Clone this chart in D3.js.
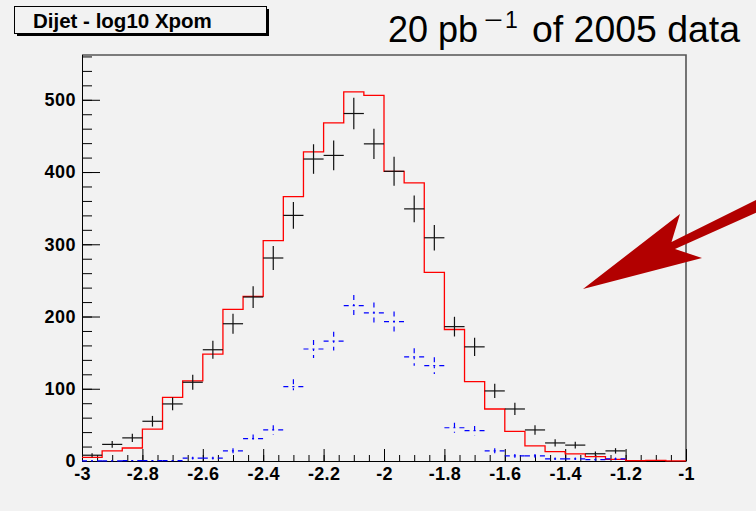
<!DOCTYPE html>
<html>
<head>
<meta charset="utf-8">
<script src="https://cdn.jsdelivr.net/npm/d3@7"></script>
<style>
  html, body { margin: 0; padding: 0; background: #f2f2f2; }
  svg { display: block; }
</style>
</head>
<body>
<svg id="chart" width="756" height="511"></svg>
<script>
// log10(xpom) histogram range and binning
const xMin = -3, xMax = -1;
const yMax = 562;

// Data counts per bin (30 bins from -3 to -1)
const dataCounts = [8, 23, 32, 55, 79, 109, 154, 190, 227, 281, 340, 418, 423, 481, 439,
                    401, 349, 309, 186, 158, 97, 72, 43, 25, 22, 10, 14, 0, 0, 0];
// Total Monte Carlo prediction (red outline)
const mcTotal = [5, 14, 18, 44, 88, 111, 148, 210, 228, 305, 366, 428, 468, 511, 506,
                 401, 385, 261, 182, 110, 72, 41, 21, 13, 10, 6, 2.3, 0.5, 0.8, 0.3];
// Monte Carlo component (blue dash-dot crosses)
const mcComponent = [0.3, 0.3, 0.5, 0.5, 0.5, 4, 4, 14, 31, 43, 103, 155, 166, 215, 205,
                     193, 144, 132, 46, 42, 14, 7, 7, 3, 3, 2, 3, 0, 0, 0];

const xTickValues = [-3, -2.8, -2.6, -2.4, -2.2, -2, -1.8, -1.6, -1.4, -1.2, -1];
const xTickLabels = ["-3", "-2.8", "-2.6", "-2.4", "-2.2", "-2", "-1.8", "-1.6", "-1.4", "-1.2", "-1"];
const yTickValues = [0, 100, 200, 300, 400, 500];
const yTickLabels = ["0", "100", "200", "300", "400", "500"];

const titleText = "Dijet - log10 Xpom";
const lumiMain = "20 pb";
const lumiSupSign = "\u2212";
const lumiSupExp = "1";
const lumiRest = "of 2005 data";

const svg = d3.select("#chart");
const W = 756, H = 511;
const frame = { left: 82, right: 686, top: 55, bottom: 461 };
const labelFont = "'Liberation Sans', Arial, Helvetica, sans-serif";

const x = d3.scaleLinear().domain([xMin, xMax]).range([frame.left, frame.right]);
const y = d3.scaleLinear().domain([0, yMax]).range([frame.bottom, frame.top]);

const nBins = dataCounts.length;
const bw = (xMax - xMin) / nBins;
const binLo = i => xMin + i * bw;
const binHi = i => xMin + (i + 1) * bw;
const binMid = i => xMin + (i + 0.5) * bw;

svg.append("rect").attr("width", W).attr("height", H).attr("fill", "#f2f2f2");

// Frame: top and right edges
svg.append("path")
  .attr("d", `M${frame.left},${frame.top}H${frame.right}V${frame.bottom}`)
  .attr("fill", "none").attr("stroke", "#555").attr("stroke-width", 1.6);

// X axis: minor ticks every 0.05, major every 0.2
const xMinorVals = d3.range(0, 41).map(k => xMin + k * 0.05);
svg.append("g")
  .attr("transform", `translate(0,${frame.bottom})`)
  .call(d3.axisBottom(x).tickValues(xMinorVals).tickSize(-6).tickSizeOuter(0).tickFormat(""))
  .call(g => g.select(".domain").remove());

const gx = svg.append("g")
  .attr("transform", `translate(0,${frame.bottom})`)
  .call(d3.axisBottom(x).tickValues(xTickValues).tickSize(-12).tickSizeOuter(0)
        .tickPadding(6).tickFormat((d, i) => xTickLabels[i]));
gx.selectAll("text")
  .attr("font-family", labelFont).attr("font-size", 18).attr("font-weight", "bold")
  .attr("letter-spacing", "0.3px").attr("fill", "#000");

// Y axis: minor ticks every 20, major every 100
const yMinorVals = d3.range(0, 29).map(k => k * 20);
svg.append("g")
  .attr("transform", `translate(${frame.left},0)`)
  .call(d3.axisLeft(y).tickValues(yMinorVals).tickSize(-10).tickSizeOuter(0).tickFormat(""))
  .call(g => g.select(".domain").remove());

const gy = svg.append("g")
  .attr("transform", `translate(${frame.left},0)`)
  .call(d3.axisLeft(y).tickValues(yTickValues).tickSize(-18).tickSizeOuter(0)
        .tickPadding(6).tickFormat((d, i) => yTickLabels[i]));
gy.select(".domain").attr("d", `M0.5,${frame.bottom}V${frame.top}`);
gy.selectAll("text")
  .attr("font-family", labelFont).attr("font-size", 18).attr("font-weight", "bold")
  .attr("letter-spacing", "0.5px").attr("fill", "#000");

// Red step outline of the total prediction
const stepPts = [];
mcTotal.forEach((v, i) => {
  stepPts.push([x(binLo(i)), y(v)]);
  stepPts.push([x(binHi(i)), y(v)]);
});
svg.append("path")
  .attr("d", d3.line()(stepPts))
  .attr("fill", "none").attr("stroke", "#ff0000").attr("stroke-width", 1.3);

// Error crosses (statistical error = sqrt(N))
function drawCrosses(values, cls, color, dash) {
  const g = svg.append("g").attr("class", cls)
    .attr("stroke", color).attr("stroke-width", 1.2).attr("fill", "none");
  values.forEach((v, i) => {
    if (!(v > 0)) return;
    const err = Math.sqrt(v);
    g.append("line")
      .attr("x1", x(binLo(i))).attr("x2", x(binHi(i)))
      .attr("y1", y(v)).attr("y2", y(v))
      .attr("stroke-dasharray", dash);
    g.append("line")
      .attr("x1", x(binMid(i))).attr("x2", x(binMid(i)))
      .attr("y1", y(v + err)).attr("y2", y(Math.max(0, v - err)))
      .attr("stroke-dasharray", dash);
  });
}
drawCrosses(mcComponent, "component", "#0000ff", "5,4,2,4");
drawCrosses(dataCounts, "data", "#111", null);

// Title box with drop shadow
const tb = { x: 14, y: 6, w: 252, h: 27 };
svg.append("rect").attr("x", tb.x + 3).attr("y", tb.y + 3).attr("width", tb.w).attr("height", tb.h).attr("fill", "#000");
svg.append("rect").attr("x", tb.x + 0.5).attr("y", tb.y + 0.5).attr("width", tb.w).attr("height", tb.h)
  .attr("fill", "#f2f2f2").attr("stroke", "#000").attr("stroke-width", 1);
svg.append("text").attr("x", 33).attr("y", 27.5)
  .attr("font-family", labelFont).attr("font-size", 20.5).attr("font-weight", "bold")
  .text(titleText);

// Luminosity annotation: 20 pb^-1 of 2005 data
svg.append("text")
  .attr("x", 388).attr("y", 42)
  .attr("font-family", labelFont).attr("font-size", 36).attr("fill", "#000")
  .text(lumiMain);
svg.append("text")
  .attr("x", 484).attr("y", 28)
  .attr("font-family", labelFont).attr("font-size", 23).attr("fill", "#000")
  .attr("textLength", 19).attr("lengthAdjust", "spacingAndGlyphs")
  .text(lumiSupSign);
svg.append("text")
  .attr("x", 505).attr("y", 28)
  .attr("font-family", labelFont).attr("font-size", 23).attr("fill", "#000")
  .text(lumiSupExp);
svg.append("text")
  .attr("x", 532).attr("y", 42)
  .attr("font-family", labelFont).attr("font-size", 36).attr("fill", "#000")
  .attr("textLength", 208).attr("lengthAdjust", "spacingAndGlyphs")
  .text(lumiRest);

// Large arrow pointing into the plot
const arrowPts = [[583, 289], [680, 214], [671.5, 242], [780, 188], [780, 202], [675, 249], [702, 258]];
svg.append("polygon")
  .attr("points", arrowPts.map(p => p.join(",")).join(" "))
  .attr("fill", "#b20000");
</script>
</body>
</html>
